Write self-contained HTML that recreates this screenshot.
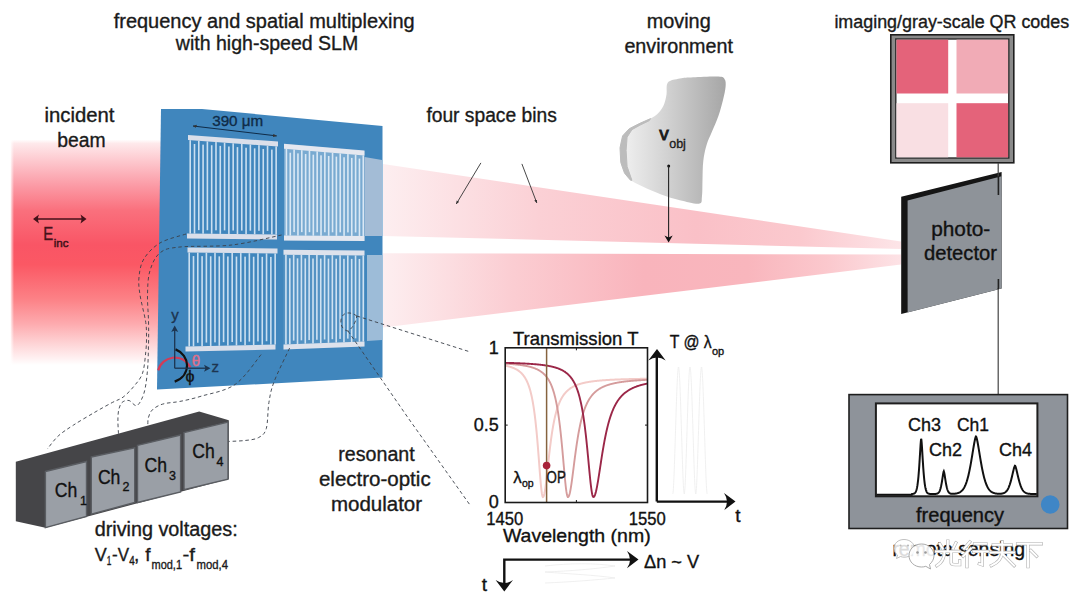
<!DOCTYPE html><html><head><meta charset="utf-8"><style>html,body{margin:0;padding:0;background:#fff;overflow:hidden;}svg{display:block;}</style></head><body>
<svg width="1080" height="601" viewBox="0 0 1080 601" font-family="Liberation Sans, sans-serif">
<defs>
<linearGradient id="gInc" gradientUnits="userSpaceOnUse" x1="0" y1="133.5" x2="0" y2="365">
 <stop offset="0" stop-color="#ffffff"/>
 <stop offset="0.026" stop-color="#ffffff"/>
 <stop offset="0.043" stop-color="#fee9eb"/>
 <stop offset="0.119" stop-color="#fdc8ce"/>
 <stop offset="0.226" stop-color="#fb9aa5"/>
 <stop offset="0.332" stop-color="#fa707d"/>
 <stop offset="0.481" stop-color="#f95565"/>
 <stop offset="0.566" stop-color="#fb5864"/>
 <stop offset="0.715" stop-color="#fc8186"/>
 <stop offset="0.821" stop-color="#fdaaae"/>
 <stop offset="0.906" stop-color="#fed3d5"/>
 <stop offset="0.97" stop-color="#fff0f1"/>
 <stop offset="1" stop-color="#ffffff"/>
</linearGradient>
<linearGradient id="gIncL" gradientUnits="userSpaceOnUse" x1="10" y1="0" x2="170" y2="0">
 <stop offset="0" stop-color="#fff" stop-opacity="1"/>
 <stop offset="0.025" stop-color="#fff" stop-opacity="0"/>
 <stop offset="1" stop-color="#fff" stop-opacity="0"/>
</linearGradient>
<linearGradient id="gWedge" gradientUnits="userSpaceOnUse" x1="383" y1="0" x2="905" y2="0">
 <stop offset="0" stop-color="#fdeef0"/>
 <stop offset="0.3" stop-color="#fbd0d5"/>
 <stop offset="0.6" stop-color="#fac0c7"/>
 <stop offset="0.8" stop-color="#fbc9ce"/>
 <stop offset="1" stop-color="#fde6e9"/>
</linearGradient>
<linearGradient id="gWedge2" gradientUnits="userSpaceOnUse" x1="383" y1="0" x2="905" y2="0">
 <stop offset="0" stop-color="#fdeef0"/>
 <stop offset="0.25" stop-color="#fbcdd2"/>
 <stop offset="0.5" stop-color="#f9b4bc"/>
 <stop offset="0.7" stop-color="#f9b6bd"/>
 <stop offset="0.85" stop-color="#fbc8cd"/>
 <stop offset="1" stop-color="#fde4e7"/>
</linearGradient>
<linearGradient id="gBlob" x1="0" y1="0" x2="1" y2="0">
 <stop offset="0" stop-color="#f2f2f2"/>
 <stop offset="0.35" stop-color="#d9d9d9"/>
 <stop offset="1" stop-color="#a6a6a6"/>
</linearGradient>
<marker id="ah" viewBox="0 0 10 10" refX="9" refY="5" markerWidth="5" markerHeight="5" orient="auto-start-reverse"><path d="M0,1 L10,5 L0,9 z" fill="#222"/></marker>
<marker id="ahs" viewBox="0 0 10 10" refX="9" refY="5" markerWidth="4" markerHeight="4" orient="auto-start-reverse"><path d="M0,1 L10,5 L0,9 z" fill="#333"/></marker>
</defs>
<rect width="1080" height="601" fill="#fff"/>
<rect x="10.5" y="132" width="160" height="235" fill="url(#gInc)"/>
<rect x="10" y="132" width="160" height="235" fill="url(#gIncL)"/>
<polygon points="383.0,164.0 901.0,241.5 901.0,249.0 383.0,235.9" fill="url(#gWedge)"/>
<polygon points="383.0,253.2 901.0,254.5 901.0,264.5 383.0,327.5" fill="url(#gWedge2)"/>
<polygon points="161.0,109.0 202.0,109.0 382.5,126.0 382.5,377.6 157.0,389.5" fill="#4086bd"/>
<polygon points="188.0,135.0 278.0,141.5 278.0,146.5 188.0,140.0" fill="#dadfea"/>
<polygon points="187.0,233.5 277.0,234.5 277.0,239.5 187.0,238.5" fill="#dadfea"/>
<rect x="189.40" y="140.19" width="1.6" height="93.34" fill="#cadff1"/>
<rect x="193.70" y="144.01" width="1.6" height="89.57" fill="#cadff1"/>
<rect x="197.99" y="140.82" width="1.6" height="89.31" fill="#cadff1"/>
<rect x="202.29" y="144.63" width="1.6" height="89.05" fill="#cadff1"/>
<rect x="206.59" y="141.44" width="1.6" height="88.78" fill="#cadff1"/>
<rect x="210.89" y="145.25" width="1.6" height="88.52" fill="#cadff1"/>
<rect x="215.19" y="142.06" width="1.6" height="88.26" fill="#cadff1"/>
<rect x="219.48" y="145.87" width="1.6" height="88.00" fill="#cadff1"/>
<rect x="223.78" y="142.68" width="1.6" height="87.73" fill="#cadff1"/>
<rect x="228.08" y="146.49" width="1.6" height="87.47" fill="#cadff1"/>
<rect x="232.38" y="143.30" width="1.6" height="87.21" fill="#cadff1"/>
<rect x="236.67" y="147.11" width="1.6" height="86.95" fill="#cadff1"/>
<rect x="240.97" y="143.92" width="1.6" height="86.68" fill="#cadff1"/>
<rect x="245.27" y="147.73" width="1.6" height="86.42" fill="#cadff1"/>
<rect x="249.56" y="144.54" width="1.6" height="86.16" fill="#cadff1"/>
<rect x="253.86" y="148.35" width="1.6" height="85.90" fill="#cadff1"/>
<rect x="258.16" y="145.16" width="1.6" height="85.63" fill="#cadff1"/>
<rect x="262.46" y="148.97" width="1.6" height="85.37" fill="#cadff1"/>
<rect x="266.75" y="145.78" width="1.6" height="85.11" fill="#cadff1"/>
<rect x="271.05" y="149.59" width="1.6" height="84.85" fill="#cadff1"/>
<rect x="275.35" y="146.40" width="1.6" height="88.08" fill="#cadff1"/>
<polygon points="284.0,143.7 364.5,150.5 364.5,155.5 284.0,148.7" fill="#dadfea"/>
<polygon points="284.0,235.5 364.5,236.0 364.5,241.0 284.0,240.5" fill="#dadfea"/>
<rect x="285.62" y="148.90" width="1.6" height="86.61" fill="#cadff1"/>
<rect x="289.46" y="152.73" width="1.6" height="82.81" fill="#cadff1"/>
<rect x="293.30" y="149.55" width="1.6" height="82.51" fill="#cadff1"/>
<rect x="297.15" y="153.38" width="1.6" height="82.21" fill="#cadff1"/>
<rect x="300.99" y="150.20" width="1.6" height="81.91" fill="#cadff1"/>
<rect x="304.83" y="154.03" width="1.6" height="81.61" fill="#cadff1"/>
<rect x="308.68" y="150.85" width="1.6" height="81.31" fill="#cadff1"/>
<rect x="312.52" y="154.68" width="1.6" height="81.01" fill="#cadff1"/>
<rect x="316.37" y="151.50" width="1.6" height="80.70" fill="#cadff1"/>
<rect x="320.21" y="155.33" width="1.6" height="80.40" fill="#cadff1"/>
<rect x="324.05" y="152.15" width="1.6" height="80.10" fill="#cadff1"/>
<rect x="327.90" y="155.98" width="1.6" height="79.80" fill="#cadff1"/>
<rect x="331.74" y="152.80" width="1.6" height="79.50" fill="#cadff1"/>
<rect x="335.59" y="156.63" width="1.6" height="79.20" fill="#cadff1"/>
<rect x="339.43" y="153.45" width="1.6" height="78.90" fill="#cadff1"/>
<rect x="343.27" y="157.27" width="1.6" height="78.60" fill="#cadff1"/>
<rect x="347.12" y="154.10" width="1.6" height="78.30" fill="#cadff1"/>
<rect x="350.96" y="157.92" width="1.6" height="78.00" fill="#cadff1"/>
<rect x="354.80" y="154.75" width="1.6" height="77.70" fill="#cadff1"/>
<rect x="358.65" y="158.57" width="1.6" height="77.40" fill="#cadff1"/>
<rect x="362.49" y="155.40" width="1.6" height="80.59" fill="#cadff1"/>
<polygon points="187.5,247.5 277.5,248.5 277.5,253.5 187.5,252.5" fill="#dadfea"/>
<polygon points="185.5,346.5 275.5,344.5 275.5,349.5 185.5,351.5" fill="#dadfea"/>
<rect x="188.40" y="252.53" width="1.6" height="93.91" fill="#cadff1"/>
<rect x="192.70" y="256.08" width="1.6" height="90.27" fill="#cadff1"/>
<rect x="196.99" y="252.63" width="1.6" height="90.12" fill="#cadff1"/>
<rect x="201.29" y="256.17" width="1.6" height="89.98" fill="#cadff1"/>
<rect x="205.59" y="252.72" width="1.6" height="89.84" fill="#cadff1"/>
<rect x="209.89" y="256.27" width="1.6" height="89.69" fill="#cadff1"/>
<rect x="214.19" y="252.82" width="1.6" height="89.55" fill="#cadff1"/>
<rect x="218.48" y="256.36" width="1.6" height="89.41" fill="#cadff1"/>
<rect x="222.78" y="252.91" width="1.6" height="89.26" fill="#cadff1"/>
<rect x="227.08" y="256.46" width="1.6" height="89.12" fill="#cadff1"/>
<rect x="231.38" y="253.01" width="1.6" height="88.98" fill="#cadff1"/>
<rect x="235.67" y="256.56" width="1.6" height="88.83" fill="#cadff1"/>
<rect x="239.97" y="253.10" width="1.6" height="88.69" fill="#cadff1"/>
<rect x="244.27" y="256.65" width="1.6" height="88.55" fill="#cadff1"/>
<rect x="248.56" y="253.20" width="1.6" height="88.40" fill="#cadff1"/>
<rect x="252.86" y="256.75" width="1.6" height="88.26" fill="#cadff1"/>
<rect x="257.16" y="253.29" width="1.6" height="88.12" fill="#cadff1"/>
<rect x="261.46" y="256.84" width="1.6" height="87.97" fill="#cadff1"/>
<rect x="265.75" y="253.39" width="1.6" height="87.83" fill="#cadff1"/>
<rect x="270.05" y="256.94" width="1.6" height="87.69" fill="#cadff1"/>
<rect x="274.35" y="253.49" width="1.6" height="91.04" fill="#cadff1"/>
<polygon points="283.5,249.7 364.5,250.5 364.5,255.5 283.5,254.7" fill="#dadfea"/>
<polygon points="283.5,344.5 364.5,341.5 364.5,346.5 283.5,349.5" fill="#dadfea"/>
<rect x="285.13" y="254.72" width="1.6" height="89.69" fill="#cadff1"/>
<rect x="289.00" y="258.26" width="1.6" height="86.00" fill="#cadff1"/>
<rect x="292.87" y="254.80" width="1.6" height="85.82" fill="#cadff1"/>
<rect x="296.73" y="258.34" width="1.6" height="85.64" fill="#cadff1"/>
<rect x="300.60" y="254.88" width="1.6" height="85.46" fill="#cadff1"/>
<rect x="304.47" y="258.41" width="1.6" height="85.28" fill="#cadff1"/>
<rect x="308.34" y="254.95" width="1.6" height="85.10" fill="#cadff1"/>
<rect x="312.20" y="258.49" width="1.6" height="84.92" fill="#cadff1"/>
<rect x="316.07" y="255.03" width="1.6" height="84.73" fill="#cadff1"/>
<rect x="319.94" y="258.57" width="1.6" height="84.55" fill="#cadff1"/>
<rect x="323.81" y="255.11" width="1.6" height="84.37" fill="#cadff1"/>
<rect x="327.68" y="258.64" width="1.6" height="84.19" fill="#cadff1"/>
<rect x="331.54" y="255.18" width="1.6" height="84.01" fill="#cadff1"/>
<rect x="335.41" y="258.72" width="1.6" height="83.83" fill="#cadff1"/>
<rect x="339.28" y="255.26" width="1.6" height="83.65" fill="#cadff1"/>
<rect x="343.15" y="258.80" width="1.6" height="83.46" fill="#cadff1"/>
<rect x="347.01" y="255.34" width="1.6" height="83.28" fill="#cadff1"/>
<rect x="350.88" y="258.87" width="1.6" height="83.10" fill="#cadff1"/>
<rect x="354.75" y="255.41" width="1.6" height="82.92" fill="#cadff1"/>
<rect x="358.62" y="258.95" width="1.6" height="82.74" fill="#cadff1"/>
<rect x="362.48" y="255.49" width="1.6" height="86.06" fill="#cadff1"/>
<polygon points="284.0,144.0 364.5,151.0 364.5,241.0 284.0,240.5" fill="#ffffff" fill-opacity="0.3"/>
<polygon points="283.5,250.0 364.5,251.0 364.5,346.5 283.5,349.5" fill="#ffffff" fill-opacity="0.1"/>
<polygon points="364.5,157.0 382.0,160.0 382.0,236.0 364.5,236.0" fill="#a3bcd6"/>
<polygon points="367.0,255.0 382.0,255.0 382.0,340.0 367.0,341.0" fill="#9dbcd8"/>
<line x1="193" y1="126" x2="276.7" y2="135.9" stroke="#0f2b47" stroke-width="1" marker-start="url(#ahs)" marker-end="url(#ahs)"/>
<text x="237.7" y="126.3" font-size="15.5" fill="#0f2b47" stroke="#0f2b47" stroke-width="0.35" text-anchor="middle" textLength="51" lengthAdjust="spacingAndGlyphs" >390 μm</text>
<path d="M158.2,370.4 C162,356 182,352 190.4,367.4" fill="none" stroke="#d23b57" stroke-width="2.2"/>
<path d="M175.5,349.4 C190,355 192,375 174.7,381.6" fill="none" stroke="#111" stroke-width="2.2"/>
<line x1="174.7" y1="368.2" x2="174.7" y2="330" stroke="#1d3550" stroke-width="1.3"/>
<path d="M174.7,325.5 L171.2,332 L174.7,330.5 L178.2,332 Z" fill="#1d3550"/>
<line x1="174.7" y1="368.2" x2="206" y2="368.2" stroke="#1d3550" stroke-width="1.3"/>
<path d="M210.5,368.2 L204,364.7 L205.5,368.2 L204,371.7 Z" fill="#1d3550"/>
<text x="175" y="319.8" font-size="15" fill="#1d3550" stroke="#1d3550" stroke-width="0.35" text-anchor="middle" >y</text>
<text x="215.2" y="372" font-size="15" fill="#1d3550" stroke="#1d3550" stroke-width="0.35" text-anchor="middle" >z</text>
<text x="196" y="366" font-size="15" fill="#e0708a" stroke="#e0708a" stroke-width="0.35" text-anchor="middle" >θ</text>
<text x="190" y="382" font-size="16" fill="#111" stroke="#111" stroke-width="0.35" text-anchor="middle" >ϕ</text>
<text x="264.2" y="27.5" font-size="19.5" fill="#1a1a1a" stroke="#1a1a1a" stroke-width="0.35" text-anchor="middle" textLength="301" lengthAdjust="spacingAndGlyphs" >frequency and spatial multiplexing</text>
<text x="267" y="50.4" font-size="19.5" fill="#1a1a1a" stroke="#1a1a1a" stroke-width="0.35" text-anchor="middle" textLength="182.4" lengthAdjust="spacingAndGlyphs" >with high-speed SLM</text>
<text x="79.5" y="122.4" font-size="19.5" fill="#1a1a1a" stroke="#1a1a1a" stroke-width="0.35" text-anchor="middle" textLength="70" lengthAdjust="spacingAndGlyphs" >incident</text>
<text x="81.5" y="146.9" font-size="19.5" fill="#1a1a1a" stroke="#1a1a1a" stroke-width="0.35" text-anchor="middle" textLength="48.4" lengthAdjust="spacingAndGlyphs" >beam</text>
<text x="491.6" y="122" font-size="19.5" fill="#1a1a1a" stroke="#1a1a1a" stroke-width="0.35" text-anchor="middle" textLength="130.4" lengthAdjust="spacingAndGlyphs" >four space bins</text>
<text x="678.7" y="27.8" font-size="19.5" fill="#1a1a1a" stroke="#1a1a1a" stroke-width="0.35" text-anchor="middle" textLength="64" lengthAdjust="spacingAndGlyphs" >moving</text>
<text x="678.7" y="52.6" font-size="19.5" fill="#1a1a1a" stroke="#1a1a1a" stroke-width="0.35" text-anchor="middle" textLength="108.6" lengthAdjust="spacingAndGlyphs" >environment</text>
<text x="951.8" y="27.7" font-size="18" fill="#1a1a1a" stroke="#1a1a1a" stroke-width="0.35" text-anchor="middle" textLength="234.8" lengthAdjust="spacingAndGlyphs" >imaging/gray-scale QR codes</text>
<line x1="36" y1="219" x2="83.5" y2="219" stroke="#45121a" stroke-width="1.4"/>
<path d="M33,219 L39,214.5 Q37,219 39,223.5 Z" fill="#45121a"/>
<path d="M86.5,219 L80.5,214.5 Q82.5,219 80.5,223.5 Z" fill="#45121a"/>
<text x="43.2" y="239.8" font-size="19" fill="#45121a" stroke="#45121a" stroke-width="0.35" text-anchor="start" textLength="10" lengthAdjust="spacingAndGlyphs" >E</text>
<text x="53.8" y="246.5" font-size="11.5" fill="#45121a" stroke="#45121a" stroke-width="0.5" text-anchor="start" >inc</text>
<line x1="480.9" y1="162.9" x2="456.3" y2="203.9" stroke="#333" stroke-width="0.9" marker-end="url(#ahs)"/>
<line x1="521.9" y1="163.9" x2="536.8" y2="202.9" stroke="#333" stroke-width="0.9" marker-end="url(#ahs)"/>
<path d="M667.9,82.6 C670.1,80.0 675.6,79.5 679.9,78.6 C684.1,77.7 686.7,77.7 693.2,77.3 C699.6,76.9 713.2,76.2 718.4,76.5 C723.7,76.8 723.4,77.5 724.6,79.2 C725.8,80.8 725.9,83.2 725.6,86.6 C725.4,90.1 724.2,95.0 723.0,99.9 C721.8,104.8 720.3,110.6 718.4,115.9 C716.6,121.2 713.8,127.0 711.8,131.9 C709.8,136.7 707.9,140.3 706.5,145.2 C705.0,150.1 703.9,155.4 703.3,161.1 C702.6,166.9 702.7,173.8 702.5,179.8 C702.3,185.8 702.5,193.1 701.9,197.1 C701.4,201.1 702.7,203.2 699.0,203.7 C695.3,204.3 686.2,201.8 679.9,200.3 C673.6,198.7 667.4,196.7 661.2,194.4 C655.0,192.1 647.7,188.8 642.6,186.4 C637.5,184.1 633.6,182.5 630.6,180.3 C627.6,178.1 626.1,176.1 624.5,173.1 C622.8,170.1 621.5,166.7 620.8,162.5 C620.0,158.3 619.7,152.3 620.0,147.8 C620.3,143.4 621.1,139.1 622.6,135.9 C624.2,132.7 626.4,130.8 629.3,128.7 C632.2,126.6 636.4,125.0 639.9,123.3 C643.5,121.7 647.5,120.3 650.6,118.6 C653.7,116.8 656.3,115.0 658.6,112.7 C660.8,110.4 662.5,107.7 663.9,104.7 C665.2,101.7 665.9,98.3 666.5,94.6 C667.2,90.9 665.7,85.3 667.9,82.6 Z" fill="url(#gBlob)"/>
<path d="M622.6,135.9 L629.3,128.7 L639.9,123.3 L650.6,118.6 L649.2,120.7 L639.9,125.2 L631.9,129.7 L627.1,137.2 L626.1,150.5 L627.1,166.5 L631.9,180.3 L630.6,180.3 L624.5,173.1 L620.8,162.5 L620.0,147.8 Z" fill="#bcbcbc" stroke="#bcbcbc" stroke-width="1" stroke-linejoin="round"/>
<text x="663.9" y="139.9" font-size="19" fill="#1a1a1a" stroke="#1a1a1a" stroke-width="0.9" text-anchor="middle" >v</text>
<text x="669.2" y="147.6" font-size="12.5" fill="#1a1a1a" stroke="#1a1a1a" stroke-width="0.35" text-anchor="start" >obj</text>
<circle cx="668.7" cy="166" r="1.5" fill="#111"/>
<line x1="668.6" y1="166" x2="668.6" y2="238" stroke="#222" stroke-width="1.1"/>
<path d="M668.6,242.5 L664.5,235.5 L668.6,237.5 L672.7,235.5 Z" fill="#111"/>
<path d="M186.0,234.0 C181.7,235.5 166.9,238.8 159.9,243.0 C152.9,247.2 147.4,253.2 143.9,258.9 C140.4,264.5 139.7,270.9 139.0,276.9 C138.3,282.9 138.9,287.5 140.0,294.8 C141.1,302.1 144.4,314.1 145.5,320.8 C146.6,327.5 146.4,329.9 146.5,335.0 C146.6,340.1 146.5,345.2 145.8,351.6 C145.1,358.0 144.5,367.5 142.5,373.3 C140.5,379.1 137.1,382.3 133.9,386.3 C130.7,390.3 126.7,394.4 123.1,397.1 C119.5,399.8 117.0,400.0 112.3,402.5 C107.6,405.0 101.4,408.4 94.9,412.2 C88.4,416.0 79.4,421.2 73.3,425.2 C67.2,429.2 62.4,432.1 58.1,436.1 C53.8,440.1 49.1,446.9 47.3,449.0 " fill="none" stroke="#3a4048" stroke-width="0.9" stroke-dasharray="3.5,2.8"/>
<path d="M281.6,235.0 C273.3,236.7 248.8,243.0 231.8,245.0 C214.9,247.0 191.9,245.7 179.9,247.0 C167.9,248.3 164.9,248.9 159.9,252.9 C154.9,256.9 152.0,263.9 149.9,270.9 C147.8,277.9 147.7,286.5 147.5,294.8 C147.3,303.1 148.3,312.4 148.5,320.8 C148.7,329.2 148.7,336.8 148.5,345.0 C148.3,353.2 148.2,362.0 147.5,370.0 C146.8,378.0 145.8,387.1 144.0,393.0 C142.2,398.9 139.5,404.2 137.0,405.5 C134.5,406.8 131.5,401.0 129.0,400.5 C126.5,400.0 123.7,400.9 122.0,402.5 C120.3,404.1 119.4,406.9 118.7,410.0 C118.0,413.1 117.9,416.9 117.9,420.9 C117.9,424.9 118.4,431.8 118.5,434.0 " fill="none" stroke="#3a4048" stroke-width="0.9" stroke-dasharray="3.5,2.8"/>
<path d="M261.1,354.6 C256.8,359.6 245.1,377.5 235.2,384.4 C225.3,391.3 210.7,393.3 201.5,396.1 C192.3,398.9 186.1,400.2 180.0,401.4 C173.9,402.6 168.8,402.6 165.0,403.5 C161.2,404.4 159.3,405.2 157.0,406.5 C154.7,407.8 152.6,409.3 151.2,411.2 C149.8,413.1 148.9,415.7 148.3,418.0 C147.7,420.3 147.9,423.8 147.8,425.0 " fill="none" stroke="#3a4048" stroke-width="0.9" stroke-dasharray="3.5,2.8"/>
<path d="M289.6,348.1 C287.0,353.7 277.4,372.8 274.0,381.9 C270.6,391.0 270.2,394.8 268.9,402.6 C267.6,410.4 268.0,422.7 266.3,428.5 C264.6,434.3 262.1,435.6 258.5,437.6 C254.9,439.6 250.1,439.9 245.0,440.5 C239.9,441.1 230.8,441.3 228.0,441.5 " fill="none" stroke="#3a4048" stroke-width="0.9" stroke-dasharray="3.5,2.8"/>
<path d="M356.8,316 C350,311 342,312 341,320 C340,328 346,331 348,331 C352,329 356,322 356.8,316" fill="none" stroke="#3a4048" stroke-width="0.9" stroke-dasharray="3.5,2.8"/>
<path d="M356.8,316 L469.2,351.6" fill="none" stroke="#3a4048" stroke-width="0.9" stroke-dasharray="3.5,2.8"/>
<path d="M348,331 L408.6,418.6 L470,505" fill="none" stroke="#3a4048" stroke-width="0.9" stroke-dasharray="3.5,2.8"/>
<polygon points="15.8,461.7 199.2,411.6 228.8,420.3 228.8,479.0 45.4,527.7 15.8,521.2" fill="#454548"/>
<polygon points="45.4,471.5 86.5,461.5 86.5,516.5 45.4,527.7" fill="#9a9fa6" stroke="#5a5d62" stroke-width="1.4"/>
<polygon points="91.3,457.0 134.7,447.8 134.7,502.5 91.3,514.2" fill="#9a9fa6" stroke="#5a5d62" stroke-width="1.4"/>
<polygon points="137.5,445.4 180.6,435.0 180.6,492.0 137.5,502.5" fill="#9a9fa6" stroke="#5a5d62" stroke-width="1.4"/>
<polygon points="184.0,432.6 228.0,422.1 228.0,479.2 184.0,489.7" fill="#9a9fa6" stroke="#5a5d62" stroke-width="1.4"/>
<text x="54.8" y="497.4" font-size="19.5" fill="#111" stroke="#111" stroke-width="0.35" text-anchor="start" textLength="22.5" lengthAdjust="spacingAndGlyphs" >Ch</text>
<text x="80" y="504.8" font-size="12.5" fill="#111" stroke="#111" stroke-width="0.35" text-anchor="start" >1</text>
<text x="97.9" y="483.9" font-size="19.5" fill="#111" stroke="#111" stroke-width="0.35" text-anchor="start" textLength="22.5" lengthAdjust="spacingAndGlyphs" >Ch</text>
<text x="122.5" y="490.9" font-size="12.5" fill="#111" stroke="#111" stroke-width="0.35" text-anchor="start" >2</text>
<text x="144.5" y="472.2" font-size="19.5" fill="#111" stroke="#111" stroke-width="0.35" text-anchor="start" textLength="22.5" lengthAdjust="spacingAndGlyphs" >Ch</text>
<text x="169" y="480.4" font-size="12.5" fill="#111" stroke="#111" stroke-width="0.35" text-anchor="start" >3</text>
<text x="192.2" y="458.2" font-size="19.5" fill="#111" stroke="#111" stroke-width="0.35" text-anchor="start" textLength="22.5" lengthAdjust="spacingAndGlyphs" >Ch</text>
<text x="216.5" y="466.4" font-size="12.5" fill="#111" stroke="#111" stroke-width="0.35" text-anchor="start" >4</text>
<text x="94.7" y="536.3" font-size="19.5" fill="#1a1a1a" stroke="#1a1a1a" stroke-width="0.35" text-anchor="start" textLength="143" lengthAdjust="spacingAndGlyphs" >driving voltages:</text>
<text x="94.7" y="560.8" font-size="19" fill="#1a1a1a" stroke="#1a1a1a" stroke-width="0.35" text-anchor="start" textLength="12" lengthAdjust="spacingAndGlyphs" >V</text>
<text x="106.8" y="564.5" font-size="12" fill="#1a1a1a" stroke="#1a1a1a" stroke-width="0.35" text-anchor="start" textLength="4.6" lengthAdjust="spacingAndGlyphs" >1</text>
<text x="112" y="560.8" font-size="19" fill="#1a1a1a" stroke="#1a1a1a" stroke-width="0.35" text-anchor="start" textLength="17" lengthAdjust="spacingAndGlyphs" >-V</text>
<text x="129.2" y="564.5" font-size="12" fill="#1a1a1a" stroke="#1a1a1a" stroke-width="0.35" text-anchor="start" textLength="5.5" lengthAdjust="spacingAndGlyphs" >4</text>
<text x="134" y="560.8" font-size="19" fill="#1a1a1a" stroke="#1a1a1a" stroke-width="0.35" text-anchor="start" >,</text>
<text x="145.3" y="560.8" font-size="19" fill="#1a1a1a" stroke="#1a1a1a" stroke-width="0.35" text-anchor="start" >f</text>
<text x="151.5" y="568.7" font-size="12.5" fill="#1a1a1a" stroke="#1a1a1a" stroke-width="0.35" text-anchor="start" textLength="30.5" lengthAdjust="spacingAndGlyphs" >mod,1</text>
<text x="182.5" y="560.8" font-size="19" fill="#1a1a1a" stroke="#1a1a1a" stroke-width="0.35" text-anchor="start" textLength="12.5" lengthAdjust="spacingAndGlyphs" >-f</text>
<text x="196.5" y="568.7" font-size="12.5" fill="#1a1a1a" stroke="#1a1a1a" stroke-width="0.35" text-anchor="start" textLength="31.5" lengthAdjust="spacingAndGlyphs" >mod,4</text>
<text x="376.5" y="460.9" font-size="19.5" fill="#1a1a1a" stroke="#1a1a1a" stroke-width="0.35" text-anchor="middle" textLength="76.4" lengthAdjust="spacingAndGlyphs" >resonant</text>
<text x="374.8" y="486.4" font-size="19.5" fill="#1a1a1a" stroke="#1a1a1a" stroke-width="0.35" text-anchor="middle" textLength="111.7" lengthAdjust="spacingAndGlyphs" >electro-optic</text>
<text x="376.5" y="510.8" font-size="19.5" fill="#1a1a1a" stroke="#1a1a1a" stroke-width="0.35" text-anchor="middle" textLength="91.2" lengthAdjust="spacingAndGlyphs" >modulator</text>
<path d="M505.20,365.62 L505.56,365.69 L505.91,365.77 L506.27,365.84 L506.62,365.92 L506.98,366.00 L507.33,366.09 L507.69,366.17 L508.05,366.26 L508.40,366.35 L508.76,366.45 L509.11,366.54 L509.47,366.64 L509.82,366.75 L510.18,366.85 L510.54,366.96 L510.89,367.08 L511.25,367.19 L511.60,367.32 L511.96,367.44 L512.31,367.57 L512.67,367.70 L513.03,367.84 L513.38,367.98 L513.74,368.13 L514.09,368.29 L514.45,368.44 L514.81,368.61 L515.16,368.78 L515.52,368.96 L515.87,369.14 L516.23,369.33 L516.58,369.53 L516.94,369.73 L517.30,369.95 L517.65,370.17 L518.01,370.40 L518.36,370.64 L518.72,370.89 L519.07,371.15 L519.43,371.42 L519.79,371.71 L520.14,372.00 L520.50,372.31 L520.85,372.63 L521.21,372.97 L521.56,373.32 L521.92,373.69 L522.28,374.08 L522.63,374.48 L522.99,374.90 L523.34,375.35 L523.70,375.81 L524.05,376.30 L524.41,376.81 L524.77,377.35 L525.12,377.92 L525.48,378.51 L525.83,379.14 L526.19,379.80 L526.54,380.50 L526.90,381.23 L527.26,382.01 L527.61,382.83 L527.97,383.69 L528.32,384.61 L528.68,385.57 L529.04,386.60 L529.39,387.68 L529.75,388.83 L530.10,390.05 L530.46,391.35 L530.81,392.72 L531.17,394.18 L531.53,395.73 L531.88,397.38 L532.24,399.14 L532.59,401.00 L532.95,402.99 L533.30,405.10 L533.66,407.35 L534.02,409.75 L534.37,412.30 L534.73,415.00 L535.08,417.88 L535.44,420.93 L535.79,424.17 L536.15,427.59 L536.51,431.21 L536.86,435.01 L537.22,439.00 L537.57,443.17 L537.93,447.51 L538.28,451.98 L538.64,456.57 L539.00,461.24 L539.35,465.93 L539.71,470.58 L540.06,475.13 L540.42,479.48 L540.77,483.55 L541.13,487.25 L541.49,490.48 L541.84,493.14 L542.20,495.17 L542.55,496.49 L542.91,497.06 L543.27,496.96 L543.62,496.41 L543.98,495.44 L544.33,494.06 L544.69,492.31 L545.04,490.22 L545.40,487.83 L545.76,485.19 L546.11,482.34 L546.47,479.32 L546.82,476.18 L547.18,472.95 L547.53,469.66 L547.89,466.36 L548.25,463.07 L548.60,459.81 L548.96,456.60 L549.31,453.46 L549.67,450.41 L550.02,447.45 L550.38,444.58 L550.74,441.83 L551.09,439.18 L551.45,436.64 L551.80,434.21 L552.16,431.88 L552.51,429.67 L552.87,427.55 L553.23,425.54 L553.58,423.62 L553.94,421.80 L554.29,420.06 L554.65,418.41 L555.00,416.84 L555.36,415.35 L555.72,413.93 L556.07,412.59 L556.43,411.30 L556.78,410.08 L557.14,408.92 L557.50,407.82 L557.85,406.76 L558.21,405.76 L558.56,404.80 L558.92,403.89 L559.27,403.02 L559.63,402.19 L559.99,401.40 L560.34,400.65 L560.70,399.92 L561.05,399.23 L561.41,398.57 L561.76,397.94 L562.12,397.33 L562.48,396.75 L562.83,396.20 L563.19,395.67 L563.54,395.15 L563.90,394.66 L564.25,394.19 L564.61,393.74 L564.97,393.31 L565.32,392.89 L565.68,392.49 L566.03,392.10 L566.39,391.73 L566.74,391.37 L567.10,391.03 L567.46,390.70 L567.81,390.38 L568.17,390.07 L568.52,389.77 L568.88,389.48 L569.24,389.21 L569.59,388.94 L569.95,388.68 L570.30,388.43 L570.66,388.19 L571.01,387.95 L571.37,387.73 L571.73,387.51 L572.08,387.30 L572.44,387.09 L572.79,386.89 L573.15,386.70 L573.50,386.52 L573.86,386.33 L574.22,386.16 L574.57,385.99 L574.93,385.83 L575.28,385.67 L575.64,385.51 L575.99,385.36 L576.35,385.21 L576.71,385.07 L577.06,384.93 L577.42,384.80 L577.77,384.67 L578.13,384.54 L578.48,384.42 L578.84,384.30 L579.20,384.18 L579.55,384.07 L579.91,383.96 L580.26,383.85 L580.62,383.74 L580.97,383.64 L581.33,383.54 L581.69,383.45 L582.04,383.35 L582.40,383.26 L582.75,383.17 L583.11,383.08 L583.47,383.00 L583.82,382.91 L584.18,382.83 L584.53,382.75 L584.89,382.67 L585.24,382.60 L585.60,382.52 L585.96,382.45 L586.31,382.38 L586.67,382.31 L587.02,382.25 L587.38,382.18 L587.73,382.12 L588.09,382.05 L588.45,381.99 L588.80,381.93 L589.16,381.87 L589.51,381.81 L589.87,381.76 L590.22,381.70 L590.58,381.65 L590.94,381.60 L591.29,381.55 L591.65,381.49 L592.00,381.44 L592.36,381.40 L592.71,381.35 L593.07,381.30 L593.43,381.26 L593.78,381.21 L594.14,381.17 L594.49,381.13 L594.85,381.08 L595.20,381.04 L595.56,381.00 L595.92,380.96 L596.27,380.92 L596.63,380.89 L596.98,380.85 L597.34,380.81 L597.69,380.78 L598.05,380.74 L598.41,380.71 L598.76,380.67 L599.12,380.64 L599.47,380.61 L599.83,380.57 L600.19,380.54 L600.54,380.51 L600.90,380.48 L601.25,380.45 L601.61,380.42 L601.96,380.39 L602.32,380.36 L602.68,380.34 L603.03,380.31 L603.39,380.28 L603.74,380.25 L604.10,380.23 L604.45,380.20 L604.81,380.18 L605.17,380.15 L605.52,380.13 L605.88,380.10 L606.23,380.08 L606.59,380.06 L606.94,380.03 L607.30,380.01 L607.66,379.99 L608.01,379.97 L608.37,379.95 L608.72,379.93 L609.08,379.91 L609.43,379.89 L609.79,379.86 L610.15,379.85 L610.50,379.83 L610.86,379.81 L611.21,379.79 L611.57,379.77 L611.92,379.75 L612.28,379.73 L612.64,379.72 L612.99,379.70 L613.35,379.68 L613.70,379.66 L614.06,379.65 L614.42,379.63 L614.77,379.61 L615.13,379.60 L615.48,379.58 L615.84,379.57 L616.19,379.55 L616.55,379.54 L616.91,379.52 L617.26,379.51 L617.62,379.49 L617.97,379.48 L618.33,379.46 L618.68,379.45 L619.04,379.44 L619.40,379.42 L619.75,379.41 L620.11,379.40 L620.46,379.38 L620.82,379.37 L621.17,379.36 L621.53,379.35 L621.89,379.33 L622.24,379.32 L622.60,379.31 L622.95,379.30 L623.31,379.29 L623.66,379.27 L624.02,379.26 L624.38,379.25 L624.73,379.24 L625.09,379.23 L625.44,379.22 L625.80,379.21 L626.15,379.20 L626.51,379.19 L626.87,379.18 L627.22,379.17 L627.58,379.16 L627.93,379.15 L628.29,379.14 L628.65,379.13 L629.00,379.12 L629.36,379.11 L629.71,379.10 L630.07,379.09 L630.42,379.08 L630.78,379.07 L631.14,379.06 L631.49,379.06 L631.85,379.05 L632.20,379.04 L632.56,379.03 L632.91,379.02 L633.27,379.01 L633.63,379.01 L633.98,379.00 L634.34,378.99 L634.69,378.98 L635.05,378.97 L635.40,378.97 L635.76,378.96 L636.12,378.95 L636.47,378.94 L636.83,378.94 L637.18,378.93 L637.54,378.92 L637.89,378.91 L638.25,378.91 L638.61,378.90 L638.96,378.89 L639.32,378.89 L639.67,378.88 L640.03,378.87 L640.38,378.87 L640.74,378.86 L641.10,378.85 L641.45,378.85 L641.81,378.84 L642.16,378.84 L642.52,378.83 L642.88,378.82 L643.23,378.82 L643.59,378.81 L643.94,378.81 L644.30,378.80 L644.65,378.79 L645.01,378.79 L645.37,378.78 L645.72,378.78 L646.08,378.77 L646.43,378.77 L646.79,378.76 L647.14,378.75 L647.50,378.75" fill="none" stroke="#f3cbc8" stroke-width="2"/>
<path d="M505.20,363.63 L505.56,363.65 L505.91,363.67 L506.27,363.69 L506.62,363.72 L506.98,363.74 L507.33,363.76 L507.69,363.79 L508.05,363.81 L508.40,363.83 L508.76,363.86 L509.11,363.88 L509.47,363.91 L509.82,363.94 L510.18,363.96 L510.54,363.99 L510.89,364.02 L511.25,364.05 L511.60,364.08 L511.96,364.11 L512.31,364.14 L512.67,364.17 L513.03,364.20 L513.38,364.23 L513.74,364.26 L514.09,364.30 L514.45,364.33 L514.81,364.36 L515.16,364.40 L515.52,364.43 L515.87,364.47 L516.23,364.51 L516.58,364.55 L516.94,364.59 L517.30,364.62 L517.65,364.67 L518.01,364.71 L518.36,364.75 L518.72,364.79 L519.07,364.84 L519.43,364.88 L519.79,364.93 L520.14,364.97 L520.50,365.02 L520.85,365.07 L521.21,365.12 L521.56,365.17 L521.92,365.22 L522.28,365.28 L522.63,365.33 L522.99,365.39 L523.34,365.45 L523.70,365.50 L524.05,365.56 L524.41,365.63 L524.77,365.69 L525.12,365.75 L525.48,365.82 L525.83,365.89 L526.19,365.96 L526.54,366.03 L526.90,366.10 L527.26,366.18 L527.61,366.25 L527.97,366.33 L528.32,366.41 L528.68,366.50 L529.04,366.58 L529.39,366.67 L529.75,366.76 L530.10,366.85 L530.46,366.95 L530.81,367.05 L531.17,367.15 L531.53,367.25 L531.88,367.36 L532.24,367.47 L532.59,367.58 L532.95,367.69 L533.30,367.81 L533.66,367.94 L534.02,368.06 L534.37,368.19 L534.73,368.33 L535.08,368.47 L535.44,368.61 L535.79,368.76 L536.15,368.91 L536.51,369.07 L536.86,369.23 L537.22,369.40 L537.57,369.57 L537.93,369.75 L538.28,369.94 L538.64,370.13 L539.00,370.33 L539.35,370.53 L539.71,370.75 L540.06,370.97 L540.42,371.19 L540.77,371.43 L541.13,371.68 L541.49,371.93 L541.84,372.20 L542.20,372.47 L542.55,372.75 L542.91,373.05 L543.27,373.36 L543.62,373.68 L543.98,374.01 L544.33,374.36 L544.69,374.72 L545.04,375.09 L545.40,375.48 L545.76,375.89 L546.11,376.31 L546.47,376.76 L546.82,377.22 L547.18,377.70 L547.53,378.21 L547.89,378.73 L548.25,379.29 L548.60,379.86 L548.96,380.47 L549.31,381.10 L549.67,381.76 L550.02,382.45 L550.38,383.18 L550.74,383.94 L551.09,384.74 L551.45,385.58 L551.80,386.47 L552.16,387.39 L552.51,388.37 L552.87,389.39 L553.23,390.47 L553.58,391.61 L553.94,392.81 L554.29,394.07 L554.65,395.40 L555.00,396.80 L555.36,398.28 L555.72,399.84 L556.07,401.48 L556.43,403.22 L556.78,405.05 L557.14,406.98 L557.50,409.02 L557.85,411.17 L558.21,413.44 L558.56,415.83 L558.92,418.35 L559.27,421.00 L559.63,423.79 L559.99,426.72 L560.34,429.80 L560.70,433.01 L561.05,436.37 L561.41,439.86 L561.76,443.49 L562.12,447.24 L562.48,451.10 L562.83,455.05 L563.19,459.07 L563.54,463.12 L563.90,467.18 L564.25,471.20 L564.61,475.12 L564.97,478.91 L565.32,482.49 L565.68,485.82 L566.03,488.81 L566.39,491.43 L566.74,493.60 L567.10,495.27 L567.46,496.42 L567.81,497.01 L568.17,497.05 L568.52,496.74 L568.88,496.11 L569.24,495.19 L569.59,493.97 L569.95,492.49 L570.30,490.76 L570.66,488.81 L571.01,486.66 L571.37,484.34 L571.73,481.88 L572.08,479.30 L572.44,476.63 L572.79,473.89 L573.15,471.12 L573.50,468.31 L573.86,465.50 L574.22,462.71 L574.57,459.93 L574.93,457.20 L575.28,454.51 L575.64,451.88 L575.99,449.32 L576.35,446.82 L576.71,444.40 L577.06,442.05 L577.42,439.78 L577.77,437.59 L578.13,435.48 L578.48,433.45 L578.84,431.49 L579.20,429.62 L579.55,427.81 L579.91,426.08 L580.26,424.42 L580.62,422.83 L580.97,421.31 L581.33,419.84 L581.69,418.44 L582.04,417.10 L582.40,415.82 L582.75,414.59 L583.11,413.41 L583.47,412.28 L583.82,411.20 L584.18,410.16 L584.53,409.16 L584.89,408.21 L585.24,407.30 L585.60,406.42 L585.96,405.58 L586.31,404.77 L586.67,403.99 L587.02,403.25 L587.38,402.53 L587.73,401.84 L588.09,401.18 L588.45,400.54 L588.80,399.93 L589.16,399.34 L589.51,398.77 L589.87,398.23 L590.22,397.70 L590.58,397.19 L590.94,396.70 L591.29,396.23 L591.65,395.77 L592.00,395.34 L592.36,394.91 L592.71,394.50 L593.07,394.11 L593.43,393.72 L593.78,393.35 L594.14,393.00 L594.49,392.65 L594.85,392.32 L595.20,391.99 L595.56,391.68 L595.92,391.38 L596.27,391.08 L596.63,390.80 L596.98,390.52 L597.34,390.26 L597.69,390.00 L598.05,389.75 L598.41,389.50 L598.76,389.26 L599.12,389.03 L599.47,388.81 L599.83,388.59 L600.19,388.38 L600.54,388.18 L600.90,387.98 L601.25,387.79 L601.61,387.60 L601.96,387.42 L602.32,387.24 L602.68,387.07 L603.03,386.90 L603.39,386.73 L603.74,386.57 L604.10,386.42 L604.45,386.27 L604.81,386.12 L605.17,385.98 L605.52,385.84 L605.88,385.70 L606.23,385.57 L606.59,385.44 L606.94,385.31 L607.30,385.19 L607.66,385.07 L608.01,384.95 L608.37,384.84 L608.72,384.72 L609.08,384.61 L609.43,384.51 L609.79,384.40 L610.15,384.30 L610.50,384.20 L610.86,384.10 L611.21,384.01 L611.57,383.92 L611.92,383.83 L612.28,383.74 L612.64,383.65 L612.99,383.57 L613.35,383.48 L613.70,383.40 L614.06,383.32 L614.42,383.24 L614.77,383.17 L615.13,383.09 L615.48,383.02 L615.84,382.95 L616.19,382.88 L616.55,382.81 L616.91,382.74 L617.26,382.68 L617.62,382.61 L617.97,382.55 L618.33,382.49 L618.68,382.43 L619.04,382.37 L619.40,382.31 L619.75,382.25 L620.11,382.20 L620.46,382.14 L620.82,382.09 L621.17,382.03 L621.53,381.98 L621.89,381.93 L622.24,381.88 L622.60,381.83 L622.95,381.78 L623.31,381.74 L623.66,381.69 L624.02,381.64 L624.38,381.60 L624.73,381.55 L625.09,381.51 L625.44,381.47 L625.80,381.43 L626.15,381.39 L626.51,381.35 L626.87,381.31 L627.22,381.27 L627.58,381.23 L627.93,381.19 L628.29,381.16 L628.65,381.12 L629.00,381.08 L629.36,381.05 L629.71,381.01 L630.07,380.98 L630.42,380.95 L630.78,380.91 L631.14,380.88 L631.49,380.85 L631.85,380.82 L632.20,380.79 L632.56,380.76 L632.91,380.73 L633.27,380.70 L633.63,380.67 L633.98,380.64 L634.34,380.61 L634.69,380.59 L635.05,380.56 L635.40,380.53 L635.76,380.51 L636.12,380.48 L636.47,380.45 L636.83,380.43 L637.18,380.40 L637.54,380.38 L637.89,380.36 L638.25,380.33 L638.61,380.31 L638.96,380.29 L639.32,380.26 L639.67,380.24 L640.03,380.22 L640.38,380.20 L640.74,380.18 L641.10,380.15 L641.45,380.13 L641.81,380.11 L642.16,380.09 L642.52,380.07 L642.88,380.05 L643.23,380.03 L643.59,380.02 L643.94,380.00 L644.30,379.98 L644.65,379.96 L645.01,379.94 L645.37,379.92 L645.72,379.91 L646.08,379.89 L646.43,379.87 L646.79,379.85 L647.14,379.84 L647.50,379.82" fill="none" stroke="#d59c9c" stroke-width="1.9"/>
<path d="M505.20,362.83 L505.56,362.84 L505.91,362.85 L506.27,362.85 L506.62,362.86 L506.98,362.87 L507.33,362.88 L507.69,362.89 L508.05,362.90 L508.40,362.91 L508.76,362.92 L509.11,362.93 L509.47,362.94 L509.82,362.95 L510.18,362.96 L510.54,362.97 L510.89,362.98 L511.25,362.99 L511.60,363.01 L511.96,363.02 L512.31,363.03 L512.67,363.04 L513.03,363.05 L513.38,363.06 L513.74,363.07 L514.09,363.09 L514.45,363.10 L514.81,363.11 L515.16,363.12 L515.52,363.14 L515.87,363.15 L516.23,363.16 L516.58,363.18 L516.94,363.19 L517.30,363.20 L517.65,363.22 L518.01,363.23 L518.36,363.24 L518.72,363.26 L519.07,363.27 L519.43,363.29 L519.79,363.30 L520.14,363.32 L520.50,363.33 L520.85,363.35 L521.21,363.37 L521.56,363.38 L521.92,363.40 L522.28,363.41 L522.63,363.43 L522.99,363.45 L523.34,363.47 L523.70,363.48 L524.05,363.50 L524.41,363.52 L524.77,363.54 L525.12,363.56 L525.48,363.58 L525.83,363.60 L526.19,363.62 L526.54,363.64 L526.90,363.66 L527.26,363.68 L527.61,363.70 L527.97,363.72 L528.32,363.74 L528.68,363.76 L529.04,363.78 L529.39,363.81 L529.75,363.83 L530.10,363.85 L530.46,363.88 L530.81,363.90 L531.17,363.93 L531.53,363.95 L531.88,363.98 L532.24,364.00 L532.59,364.03 L532.95,364.06 L533.30,364.08 L533.66,364.11 L534.02,364.14 L534.37,364.17 L534.73,364.20 L535.08,364.23 L535.44,364.26 L535.79,364.29 L536.15,364.32 L536.51,364.35 L536.86,364.38 L537.22,364.42 L537.57,364.45 L537.93,364.49 L538.28,364.52 L538.64,364.56 L539.00,364.59 L539.35,364.63 L539.71,364.67 L540.06,364.71 L540.42,364.75 L540.77,364.79 L541.13,364.83 L541.49,364.87 L541.84,364.92 L542.20,364.96 L542.55,365.00 L542.91,365.05 L543.27,365.10 L543.62,365.14 L543.98,365.19 L544.33,365.24 L544.69,365.29 L545.04,365.34 L545.40,365.40 L545.76,365.45 L546.11,365.51 L546.47,365.56 L546.82,365.62 L547.18,365.68 L547.53,365.74 L547.89,365.80 L548.25,365.87 L548.60,365.93 L548.96,366.00 L549.31,366.07 L549.67,366.14 L550.02,366.21 L550.38,366.28 L550.74,366.36 L551.09,366.43 L551.45,366.51 L551.80,366.59 L552.16,366.67 L552.51,366.76 L552.87,366.85 L553.23,366.94 L553.58,367.03 L553.94,367.12 L554.29,367.22 L554.65,367.32 L555.00,367.42 L555.36,367.52 L555.72,367.63 L556.07,367.74 L556.43,367.86 L556.78,367.97 L557.14,368.09 L557.50,368.22 L557.85,368.34 L558.21,368.47 L558.56,368.61 L558.92,368.75 L559.27,368.89 L559.63,369.04 L559.99,369.19 L560.34,369.35 L560.70,369.51 L561.05,369.67 L561.41,369.85 L561.76,370.02 L562.12,370.21 L562.48,370.40 L562.83,370.59 L563.19,370.79 L563.54,371.00 L563.90,371.22 L564.25,371.44 L564.61,371.67 L564.97,371.91 L565.32,372.15 L565.68,372.41 L566.03,372.67 L566.39,372.95 L566.74,373.23 L567.10,373.53 L567.46,373.83 L567.81,374.15 L568.17,374.48 L568.52,374.82 L568.88,375.17 L569.24,375.54 L569.59,375.93 L569.95,376.32 L570.30,376.74 L570.66,377.17 L571.01,377.62 L571.37,378.08 L571.73,378.57 L572.08,379.08 L572.44,379.61 L572.79,380.16 L573.15,380.73 L573.50,381.33 L573.86,381.96 L574.22,382.61 L574.57,383.30 L574.93,384.01 L575.28,384.76 L575.64,385.54 L575.99,386.36 L576.35,387.22 L576.71,388.12 L577.06,389.06 L577.42,390.04 L577.77,391.08 L578.13,392.16 L578.48,393.30 L578.84,394.50 L579.20,395.75 L579.55,397.07 L579.91,398.46 L580.26,399.92 L580.62,401.45 L580.97,403.06 L581.33,404.75 L581.69,406.53 L582.04,408.40 L582.40,410.37 L582.75,412.43 L583.11,414.61 L583.47,416.89 L583.82,419.28 L584.18,421.79 L584.53,424.43 L584.89,427.18 L585.24,430.06 L585.60,433.07 L585.96,436.20 L586.31,439.45 L586.67,442.82 L587.02,446.30 L587.38,449.88 L587.73,453.54 L588.09,457.27 L588.45,461.05 L588.80,464.84 L589.16,468.63 L589.51,472.36 L589.87,476.01 L590.22,479.52 L590.58,482.84 L590.94,485.94 L591.29,488.74 L591.65,491.21 L592.00,493.30 L592.36,494.96 L592.71,496.16 L593.07,496.87 L593.43,497.08 L593.78,496.96 L594.14,496.61 L594.49,496.04 L594.85,495.27 L595.20,494.29 L595.56,493.13 L595.92,491.79 L596.27,490.28 L596.63,488.62 L596.98,486.83 L597.34,484.92 L597.69,482.91 L598.05,480.81 L598.41,478.63 L598.76,476.40 L599.12,474.12 L599.47,471.81 L599.83,469.48 L600.19,467.15 L600.54,464.81 L600.90,462.48 L601.25,460.17 L601.61,457.89 L601.96,455.64 L602.32,453.43 L602.68,451.26 L603.03,449.13 L603.39,447.05 L603.74,445.03 L604.10,443.05 L604.45,441.13 L604.81,439.26 L605.17,437.45 L605.52,435.69 L605.88,433.99 L606.23,432.34 L606.59,430.74 L606.94,429.20 L607.30,427.71 L607.66,426.27 L608.01,424.88 L608.37,423.53 L608.72,422.23 L609.08,420.98 L609.43,419.77 L609.79,418.61 L610.15,417.48 L610.50,416.40 L610.86,415.35 L611.21,414.34 L611.57,413.36 L611.92,412.42 L612.28,411.51 L612.64,410.63 L612.99,409.78 L613.35,408.97 L613.70,408.18 L614.06,407.41 L614.42,406.68 L614.77,405.96 L615.13,405.28 L615.48,404.61 L615.84,403.97 L616.19,403.34 L616.55,402.74 L616.91,402.16 L617.26,401.60 L617.62,401.05 L617.97,400.52 L618.33,400.01 L618.68,399.52 L619.04,399.04 L619.40,398.57 L619.75,398.12 L620.11,397.68 L620.46,397.26 L620.82,396.85 L621.17,396.45 L621.53,396.06 L621.89,395.69 L622.24,395.32 L622.60,394.97 L622.95,394.62 L623.31,394.29 L623.66,393.97 L624.02,393.65 L624.38,393.34 L624.73,393.04 L625.09,392.75 L625.44,392.47 L625.80,392.20 L626.15,391.93 L626.51,391.67 L626.87,391.42 L627.22,391.17 L627.58,390.93 L627.93,390.70 L628.29,390.47 L628.65,390.25 L629.00,390.03 L629.36,389.82 L629.71,389.61 L630.07,389.41 L630.42,389.22 L630.78,389.03 L631.14,388.84 L631.49,388.66 L631.85,388.48 L632.20,388.31 L632.56,388.14 L632.91,387.97 L633.27,387.81 L633.63,387.65 L633.98,387.50 L634.34,387.35 L634.69,387.20 L635.05,387.06 L635.40,386.92 L635.76,386.78 L636.12,386.65 L636.47,386.51 L636.83,386.39 L637.18,386.26 L637.54,386.14 L637.89,386.02 L638.25,385.90 L638.61,385.78 L638.96,385.67 L639.32,385.56 L639.67,385.45 L640.03,385.35 L640.38,385.24 L640.74,385.14 L641.10,385.04 L641.45,384.94 L641.81,384.85 L642.16,384.75 L642.52,384.66 L642.88,384.57 L643.23,384.48 L643.59,384.40 L643.94,384.31 L644.30,384.23 L644.65,384.15 L645.01,384.07 L645.37,383.99 L645.72,383.91 L646.08,383.83 L646.43,383.76 L646.79,383.69 L647.14,383.62 L647.50,383.55" fill="none" stroke="#9b2748" stroke-width="1.9"/>
<line x1="546.6" y1="347.8" x2="546.6" y2="502.5" stroke="#86633f" stroke-width="1.5"/>
<circle cx="546.6" cy="465.6" r="3.8" fill="#a8223a"/>
<rect x="505.2" y="347.8" width="142.3" height="154.7" fill="none" stroke="#1a1a1a" stroke-width="1.6"/>
<path d="M576.4,502.5 v-2.5 M576.4,347.8 v2.5 M505.2,425.1 h2.5 M647.5,425.1 h-2.5" stroke="#1a1a1a" stroke-width="1"/>
<text x="575.7" y="344.9" font-size="18.5" fill="#111" stroke="#111" stroke-width="0.35" text-anchor="middle" textLength="125.6" lengthAdjust="spacingAndGlyphs" >Transmission T</text>
<text x="498.7" y="353.7" font-size="18" fill="#111" stroke="#111" stroke-width="0.35" text-anchor="end" >1</text>
<text x="498.7" y="431" font-size="18" fill="#111" stroke="#111" stroke-width="0.35" text-anchor="end" textLength="25" lengthAdjust="spacingAndGlyphs" >0.5</text>
<text x="498.7" y="507.7" font-size="18" fill="#111" stroke="#111" stroke-width="0.35" text-anchor="end" >0</text>
<text x="504.7" y="525.4" font-size="18" fill="#111" stroke="#111" stroke-width="0.35" text-anchor="middle" textLength="37" lengthAdjust="spacingAndGlyphs" >1450</text>
<text x="647.2" y="525.4" font-size="18" fill="#111" stroke="#111" stroke-width="0.35" text-anchor="middle" textLength="37" lengthAdjust="spacingAndGlyphs" >1550</text>
<text x="576.8" y="541.5" font-size="19" fill="#111" stroke="#111" stroke-width="0.35" text-anchor="middle" textLength="147.8" lengthAdjust="spacingAndGlyphs" >Wavelength (nm)</text>
<text x="513.3" y="482.8" font-size="17" fill="#111" stroke="#111" stroke-width="0.35" text-anchor="start" >λ</text>
<text x="522" y="487" font-size="10.5" fill="#111" stroke="#111" stroke-width="0.35" text-anchor="start" >op</text>
<text x="546.6" y="482.8" font-size="16" fill="#111" stroke="#111" stroke-width="0.35" text-anchor="start" textLength="19.2" lengthAdjust="spacingAndGlyphs" >OP</text>
<path d="M656.8,501.6 L656.8,352 M656.8,501.6 L731,501.6" fill="none" stroke="#111" stroke-width="2.4"/>
<path d="M657,349 L648.3,360.5 Q657,354.5 665.7,360.5 Z" fill="#111"/>
<path d="M735.5,501.6 L724,492.9 Q730,501.6 724,510.3 Z" fill="#111"/>
<text x="669.7" y="348.4" font-size="18" fill="#111" stroke="#111" stroke-width="0.35" text-anchor="start" textLength="42" lengthAdjust="spacingAndGlyphs" >T @ λ</text>
<text x="712" y="355.3" font-size="11" fill="#111" stroke="#111" stroke-width="0.35" text-anchor="start" >op</text>
<text x="737.8" y="521.8" font-size="19" fill="#111" stroke="#111" stroke-width="0.35" text-anchor="middle" >t</text>
<path d="M672.7,494 C674.5,494 676.5,367 678.5,367 C680.5,367 682.5,494 684.25,494 C686.0,494 688.0,367 690.0,367 C692.0,367 694.0,494 695.75,494 C697.5,494 699.5,367 701.5,367 C703.5,367 705.5,494 707.25,494 " fill="none" stroke="#ececec" stroke-width="0.8"/>
<path d="M504.3,588 L504.3,559.6 L634,559.6" fill="none" stroke="#111" stroke-width="2.4"/>
<path d="M638.5,559.6 L627,550.9 Q633,559.6 627,568.3 Z" fill="#111"/>
<path d="M504.3,591.5 L495.6,580 Q504.3,586 513,580 Z" fill="#111"/>
<text x="644" y="568.2" font-size="19" fill="#111" stroke="#111" stroke-width="0.35" text-anchor="start" textLength="55.2" lengthAdjust="spacingAndGlyphs" >Δn ~ V</text>
<text x="484.5" y="591.3" font-size="19" fill="#111" stroke="#111" stroke-width="0.35" text-anchor="middle" >t</text>
<path d="M545,566 C570,563 595,563 615,566 C595,569 570,571 545,572 C570,574 595,575 615,578 C595,580 570,582 545,583" fill="none" stroke="#ececec" stroke-width="0.8"/>
<rect x="890.8" y="34.8" width="123" height="128" fill="#8a8a8a" stroke="#1e1e1e" stroke-width="1.6"/>
<rect x="895.8" y="39" width="113" height="119" fill="#fff" stroke="#2a2a2a" stroke-width="1.4"/>
<rect x="896.5" y="39.7" width="51.7" height="53.8" fill="#e4637a"/>
<rect x="956.5" y="39.7" width="51.6" height="53.8" fill="#f1abb6"/>
<rect x="896.5" y="103.2" width="51.7" height="54.1" fill="#f9dfe3"/>
<rect x="956.5" y="103.2" width="51.6" height="54.1" fill="#e4637a"/>
<polygon points="901.2,196.7 1001.6,172.1 1001.6,288.6 901.2,314.0" fill="#151515"/>
<polygon points="907.6,200.6 1001.6,176.2 1001.6,288.6 907.6,312.4" fill="#8e9399"/>
<text x="960.7" y="235.5" font-size="20" fill="#111" stroke="#111" stroke-width="0.35" text-anchor="middle" textLength="59" lengthAdjust="spacingAndGlyphs" >photo-</text>
<text x="960.5" y="260" font-size="20" fill="#111" stroke="#111" stroke-width="0.35" text-anchor="middle" textLength="73" lengthAdjust="spacingAndGlyphs" >detector</text>
<line x1="998.2" y1="163" x2="998.2" y2="178" stroke="#444" stroke-width="1.2"/>
<line x1="998.2" y1="288" x2="998.2" y2="394.6" stroke="#444" stroke-width="1.2"/>
<line x1="998.4" y1="176" x2="998.4" y2="195" stroke="#222" stroke-width="1.6"/>
<line x1="998.4" y1="279" x2="998.4" y2="289" stroke="#222" stroke-width="1.6"/>
<rect x="849" y="394.6" width="218.5" height="133.9" fill="#8e939a" stroke="#1e1e1e" stroke-width="1.6"/>
<rect x="875.9" y="403.4" width="161.5" height="92.9" fill="#fff" stroke="#1e1e1e" stroke-width="2"/>
<path d="M876.50,494.80 L876.77,494.80 L877.03,494.80 L877.30,494.80 L877.57,494.80 L877.84,494.80 L878.10,494.80 L878.37,494.80 L878.64,494.80 L878.90,494.80 L879.17,494.80 L879.44,494.80 L879.71,494.80 L879.97,494.80 L880.24,494.80 L880.51,494.80 L880.77,494.80 L881.04,494.80 L881.31,494.80 L881.58,494.80 L881.84,494.80 L882.11,494.80 L882.38,494.80 L882.64,494.80 L882.91,494.80 L883.18,494.80 L883.45,494.80 L883.71,494.80 L883.98,494.80 L884.25,494.80 L884.51,494.80 L884.78,494.80 L885.05,494.80 L885.32,494.80 L885.58,494.80 L885.85,494.80 L886.12,494.80 L886.39,494.80 L886.65,494.80 L886.92,494.80 L887.19,494.80 L887.45,494.80 L887.72,494.80 L887.99,494.80 L888.26,494.80 L888.52,494.80 L888.79,494.80 L889.06,494.80 L889.32,494.80 L889.59,494.80 L889.86,494.80 L890.13,494.80 L890.39,494.80 L890.66,494.80 L890.93,494.80 L891.19,494.80 L891.46,494.80 L891.73,494.80 L892.00,494.80 L892.26,494.80 L892.53,494.80 L892.80,494.80 L893.06,494.80 L893.33,494.80 L893.60,494.80 L893.87,494.80 L894.13,494.80 L894.40,494.80 L894.67,494.80 L894.93,494.80 L895.20,494.80 L895.47,494.80 L895.74,494.80 L896.00,494.80 L896.27,494.80 L896.54,494.80 L896.80,494.80 L897.07,494.80 L897.34,494.80 L897.61,494.80 L897.87,494.80 L898.14,494.80 L898.41,494.80 L898.67,494.80 L898.94,494.80 L899.21,494.80 L899.48,494.80 L899.74,494.80 L900.01,494.80 L900.28,494.80 L900.54,494.80 L900.81,494.80 L901.08,494.80 L901.35,494.80 L901.61,494.80 L901.88,494.80 L902.15,494.80 L902.42,494.80 L902.68,494.80 L902.95,494.80 L903.22,494.80 L903.48,494.80 L903.75,494.80 L904.02,494.80 L904.29,494.80 L904.55,494.80 L904.82,494.80 L905.09,494.80 L905.35,494.80 L905.62,494.80 L905.89,494.80 L906.16,494.80 L906.42,494.80 L906.69,494.80 L906.96,494.80 L907.22,494.80 L907.49,494.80 L907.76,494.80 L908.03,494.80 L908.29,494.80 L908.56,494.80 L908.83,494.80 L909.09,494.80 L909.36,494.80 L909.63,494.80 L909.90,494.80 L910.16,494.79 L910.43,494.79 L910.70,494.79 L910.96,494.79 L911.23,494.78 L911.50,494.77 L911.77,494.76 L912.03,493.95 L912.30,493.93 L912.57,493.91 L912.83,493.88 L913.10,493.84 L913.37,493.78 L913.64,493.71 L913.90,493.62 L914.17,493.50 L914.44,493.35 L914.70,493.16 L914.97,492.91 L915.24,492.60 L915.51,492.22 L915.77,491.73 L916.04,491.14 L916.31,490.41 L916.58,489.52 L916.84,488.44 L917.11,487.16 L917.38,485.63 L917.64,483.83 L917.91,481.73 L918.18,479.31 L918.45,476.54 L918.71,473.43 L918.98,469.97 L919.25,466.18 L919.51,462.10 L919.78,457.81 L920.05,453.40 L920.32,449.04 L920.58,444.91 L920.85,441.34 L921.12,438.84 L921.38,439.60 L921.65,442.60 L921.92,446.42 L922.19,450.67 L922.45,455.07 L922.72,459.45 L922.99,463.67 L923.25,467.65 L923.52,471.32 L923.79,474.65 L924.06,477.63 L924.32,480.26 L924.59,482.56 L924.86,484.54 L925.12,486.23 L925.39,487.67 L925.66,488.87 L925.93,489.87 L926.19,490.70 L926.46,491.38 L926.73,491.93 L926.99,492.37 L927.26,492.73 L927.53,493.01 L927.80,493.24 L928.06,493.41 L928.33,493.55 L928.60,493.66 L928.86,493.74 L929.13,493.81 L929.40,493.85 L929.67,493.89 L929.93,493.92 L930.20,493.94 L930.47,493.96 L930.73,493.97 L931.00,493.98 L931.27,493.98 L931.54,493.99 L931.80,493.99 L932.07,493.99 L932.34,493.99 L932.61,493.99 L932.87,493.99 L933.14,493.99 L933.41,493.99 L933.67,493.99 L933.94,493.99 L934.21,493.98 L934.48,493.97 L934.74,493.97 L935.01,493.95 L935.28,493.94 L935.54,493.92 L935.81,493.90 L936.08,493.86 L936.35,493.82 L936.61,493.77 L936.88,493.70 L937.15,493.62 L937.41,493.52 L937.68,493.39 L937.95,493.22 L938.22,493.02 L938.48,492.78 L938.75,492.48 L939.02,492.13 L939.28,491.70 L939.55,491.19 L939.82,490.59 L940.09,489.88 L940.35,489.07 L940.62,488.13 L940.89,487.06 L941.15,485.87 L941.42,484.54 L941.69,483.08 L941.96,481.51 L942.22,479.84 L942.49,478.12 L942.76,476.39 L943.02,474.71 L943.29,473.18 L943.56,471.93 L943.83,471.32 L944.09,472.14 L944.36,473.46 L944.63,475.03 L944.89,476.72 L945.16,478.46 L945.43,480.17 L945.70,481.82 L945.96,483.37 L946.23,484.80 L946.50,486.10 L946.76,487.27 L947.03,488.31 L947.30,489.22 L947.57,490.01 L947.83,490.69 L948.10,491.28 L948.37,491.77 L948.63,492.18 L948.90,492.52 L949.17,492.80 L949.44,493.03 L949.70,493.22 L949.97,493.37 L950.24,493.49 L950.51,493.58 L950.77,493.66 L951.04,493.71 L951.31,493.76 L951.57,493.79 L951.84,493.81 L952.11,493.82 L952.38,493.83 L952.64,493.83 L952.91,493.82 L953.18,493.82 L953.44,493.80 L953.71,493.79 L953.98,493.77 L954.25,493.75 L954.51,493.73 L954.78,493.70 L955.05,493.67 L955.31,493.64 L955.58,493.60 L955.85,493.56 L956.12,493.52 L956.38,493.47 L956.65,493.42 L956.92,493.36 L957.18,493.30 L957.45,493.23 L957.72,493.15 L957.99,493.07 L958.25,492.98 L958.52,492.89 L958.79,492.78 L959.05,492.67 L959.32,492.54 L959.59,492.41 L959.86,492.26 L960.12,492.11 L960.39,491.94 L960.66,491.76 L960.92,491.56 L961.19,491.34 L961.46,491.11 L961.73,490.87 L961.99,490.60 L962.26,490.32 L962.53,490.01 L962.79,489.68 L963.06,489.33 L963.33,488.96 L963.60,488.55 L963.86,488.13 L964.13,487.67 L964.40,487.18 L964.66,486.66 L964.93,486.11 L965.20,485.53 L965.47,484.91 L965.73,484.25 L966.00,483.55 L966.27,482.82 L966.54,482.04 L966.80,481.23 L967.07,480.37 L967.34,479.46 L967.60,478.51 L967.87,477.52 L968.14,476.48 L968.41,475.40 L968.67,474.26 L968.94,473.08 L969.21,471.86 L969.47,470.59 L969.74,469.27 L970.01,467.91 L970.28,466.51 L970.54,465.06 L970.81,463.58 L971.08,462.06 L971.34,460.52 L971.61,458.94 L971.88,457.34 L972.15,455.72 L972.41,454.09 L972.68,452.45 L972.95,450.81 L973.21,449.19 L973.48,447.58 L973.75,446.00 L974.02,444.47 L974.28,442.99 L974.55,441.58 L974.82,440.26 L975.08,439.06 L975.35,438.00 L975.62,437.13 L975.89,436.52 L976.15,436.59 L976.42,437.24 L976.69,438.15 L976.95,439.23 L977.22,440.45 L977.49,441.78 L977.76,443.20 L978.02,444.69 L978.29,446.23 L978.56,447.81 L978.82,449.43 L979.09,451.05 L979.36,452.69 L979.63,454.33 L979.89,455.96 L980.16,457.57 L980.43,459.17 L980.69,460.74 L980.96,462.29 L981.23,463.80 L981.50,465.28 L981.76,466.71 L982.03,468.11 L982.30,469.46 L982.57,470.77 L982.83,472.04 L983.10,473.26 L983.37,474.43 L983.63,475.56 L983.90,476.64 L984.17,477.67 L984.44,478.66 L984.70,479.60 L984.97,480.50 L985.24,481.35 L985.50,482.16 L985.77,482.93 L986.04,483.66 L986.31,484.35 L986.57,485.00 L986.84,485.61 L987.11,486.19 L987.37,486.74 L987.64,487.25 L987.91,487.74 L988.18,488.19 L988.44,488.61 L988.71,489.01 L988.98,489.38 L989.24,489.73 L989.51,490.06 L989.78,490.36 L990.05,490.64 L990.31,490.90 L990.58,491.15 L990.85,491.38 L991.11,491.59 L991.38,491.78 L991.65,491.96 L991.92,492.13 L992.18,492.29 L992.45,492.43 L992.72,492.56 L992.98,492.68 L993.25,492.79 L993.52,492.90 L993.79,492.99 L994.05,493.08 L994.32,493.16 L994.59,493.23 L994.85,493.30 L995.12,493.36 L995.39,493.42 L995.66,493.47 L995.92,493.51 L996.19,493.56 L996.46,493.59 L996.73,493.63 L996.99,493.66 L997.26,493.68 L997.53,493.70 L997.79,493.72 L998.06,493.74 L998.33,493.75 L998.60,493.76 L998.86,493.77 L999.13,493.77 L999.40,493.78 L999.66,493.77 L999.93,493.77 L1000.20,493.76 L1000.47,493.75 L1000.73,493.73 L1001.00,493.71 L1001.27,493.68 L1001.53,493.65 L1001.80,493.61 L1002.07,493.57 L1002.34,493.52 L1002.60,493.46 L1002.87,493.39 L1003.14,493.32 L1003.40,493.23 L1003.67,493.14 L1003.94,493.03 L1004.21,492.91 L1004.47,492.77 L1004.74,492.62 L1005.01,492.45 L1005.27,492.26 L1005.54,492.05 L1005.81,491.82 L1006.08,491.57 L1006.34,491.29 L1006.61,490.98 L1006.88,490.65 L1007.14,490.28 L1007.41,489.88 L1007.68,489.44 L1007.95,488.97 L1008.21,488.45 L1008.48,487.90 L1008.75,487.30 L1009.01,486.66 L1009.28,485.98 L1009.55,485.24 L1009.82,484.47 L1010.08,483.64 L1010.35,482.77 L1010.62,481.85 L1010.88,480.89 L1011.15,479.89 L1011.42,478.85 L1011.69,477.77 L1011.95,476.67 L1012.22,475.54 L1012.49,474.39 L1012.75,473.25 L1013.02,472.10 L1013.29,470.97 L1013.56,469.88 L1013.82,468.84 L1014.09,467.87 L1014.36,467.01 L1014.63,466.29 L1014.89,465.79 L1015.16,465.87 L1015.43,466.42 L1015.69,467.17 L1015.96,468.05 L1016.23,469.04 L1016.50,470.09 L1016.76,471.19 L1017.03,472.32 L1017.30,473.47 L1017.56,474.62 L1017.83,475.76 L1018.10,476.88 L1018.37,477.98 L1018.63,479.05 L1018.90,480.09 L1019.17,481.08 L1019.43,482.03 L1019.70,482.94 L1019.97,483.81 L1020.24,484.62 L1020.50,485.39 L1020.77,486.11 L1021.04,486.79 L1021.30,487.42 L1021.57,488.01 L1021.84,488.56 L1022.11,489.06 L1022.37,489.53 L1022.64,489.96 L1022.91,490.36 L1023.17,490.72 L1023.44,491.05 L1023.71,491.35 L1023.98,491.63 L1024.24,491.88 L1024.51,492.11 L1024.78,492.31 L1025.04,492.50 L1025.31,492.66 L1025.58,492.81 L1025.85,492.95 L1026.11,493.07 L1026.38,493.18 L1026.65,493.28 L1026.91,493.36 L1027.18,493.44 L1027.45,493.51 L1027.72,493.57 L1027.98,493.62 L1028.25,493.67 L1028.52,493.71 L1028.78,493.75 L1029.05,493.78 L1029.32,493.81 L1029.59,493.83 L1029.85,493.86 L1030.12,493.87 L1030.39,493.89 L1030.66,493.91 L1030.92,493.92 L1031.19,493.93 L1031.46,493.94 L1031.72,493.95 L1031.99,493.96 L1032.26,493.96 L1032.53,493.97 L1032.79,493.97 L1033.06,493.98 L1033.33,493.98 L1033.59,493.98 L1033.86,493.99 L1034.13,493.99 L1034.40,493.99 L1034.66,493.99 L1034.93,493.99 L1035.20,493.99 L1035.46,493.99 L1035.73,494.00 L1036.00,494.00 L1036.27,494.00 L1036.53,494.00 L1036.80,494.00" fill="none" stroke="#111" stroke-width="2"/>
<text x="924.4" y="430.6" font-size="18" fill="#111" stroke="#111" stroke-width="0.35" text-anchor="middle" textLength="33" lengthAdjust="spacingAndGlyphs" >Ch3</text>
<text x="973" y="430.6" font-size="18" fill="#111" stroke="#111" stroke-width="0.35" text-anchor="middle" textLength="32" lengthAdjust="spacingAndGlyphs" >Ch1</text>
<text x="945.5" y="455.8" font-size="18" fill="#111" stroke="#111" stroke-width="0.35" text-anchor="middle" textLength="33" lengthAdjust="spacingAndGlyphs" >Ch2</text>
<text x="1015.5" y="455.8" font-size="18" fill="#111" stroke="#111" stroke-width="0.35" text-anchor="middle" textLength="33" lengthAdjust="spacingAndGlyphs" >Ch4</text>
<text x="960" y="521.6" font-size="19.5" fill="#111" stroke="#111" stroke-width="0.35" text-anchor="middle" textLength="88" lengthAdjust="spacingAndGlyphs" >frequency</text>
<circle cx="1050.2" cy="504.5" r="9.3" fill="#3f86c6"/>
<text x="958.7" y="556.4" font-size="19.5" fill="#111" stroke="#111" stroke-width="0.35" text-anchor="middle" textLength="132.6" lengthAdjust="spacingAndGlyphs" >remote sensing</text>
<g fill="none" stroke="#b4b4b4" stroke-width="3.4" stroke-linecap="square"><g transform="translate(935.0,541) scale(0.95)"><path d="M13.5,0 L13.5,10 M5,3 L8,8 M22,2 L19,8 M1,11 L26,11 M10,11 C10,18 7,23 2,26 M17,11 L17,23 C17,25 19,25 26,25 L26,21"/></g><g transform="translate(962.2,541) scale(0.95)"><path d="M8,1 L2,8 M9,8 L1,16 M5,12 L5,27 M13,3 L25,3 M12,11 L27,11 M21,11 L21,25 L18,24"/></g><g transform="translate(989.4,541) scale(0.95)"><path d="M4,4 L23,4 M1,12 L26,12 M13.5,1 L13.5,12 C13,18 9,23 2,26 M14,14 L26,26"/></g><g transform="translate(1016.6,541) scale(0.95)"><path d="M1,3 L26,3 M12,3 L12,27 M15,10 L21,16"/></g></g>
<g fill="none" stroke="#ffffff" stroke-width="2.1" stroke-linecap="square"><g transform="translate(935.0,541) scale(0.95)"><path d="M13.5,0 L13.5,10 M5,3 L8,8 M22,2 L19,8 M1,11 L26,11 M10,11 C10,18 7,23 2,26 M17,11 L17,23 C17,25 19,25 26,25 L26,21"/></g><g transform="translate(962.2,541) scale(0.95)"><path d="M8,1 L2,8 M9,8 L1,16 M5,12 L5,27 M13,3 L25,3 M12,11 L27,11 M21,11 L21,25 L18,24"/></g><g transform="translate(989.4,541) scale(0.95)"><path d="M4,4 L23,4 M1,12 L26,12 M13.5,1 L13.5,12 C13,18 9,23 2,26 M14,14 L26,26"/></g><g transform="translate(1016.6,541) scale(0.95)"><path d="M1,3 L26,3 M12,3 L12,27 M15,10 L21,16"/></g></g>
<path d="M904,539.5 C898,539.5 894,543.5 894,548.5 C894,551.5 895.5,553.5 897.5,555 L896.5,558.5 L900.5,556.5 C902,557 903,557.2 904,557.2 C910,557.2 914.5,553.5 914.5,548.5 C914.5,543.5 910,539.5 904,539.5 Z" fill="#fff" fill-opacity="0.85" stroke="#b0b0b0" stroke-width="0.8"/>
<path d="M921.5,544 C914.5,544 909,549 909,555.5 C909,562 914.5,567 921.5,567 C923,567 924.5,566.8 925.8,566.3 L930.5,569 L929.5,564.5 C932.2,562.2 934,559 934,555.5 C934,549 928.5,544 921.5,544 Z" fill="#fff" fill-opacity="0.9" stroke="#a0a0a0" stroke-width="0.9"/>
<circle cx="917.5" cy="552.5" r="1.3" fill="#999"/><circle cx="925.5" cy="552.5" r="1.3" fill="#999"/>
<circle cx="900.5" cy="545.5" r="1.1" fill="#bbb"/><circle cx="908" cy="545.5" r="1.1" fill="#bbb"/>
</svg>
</body></html>
